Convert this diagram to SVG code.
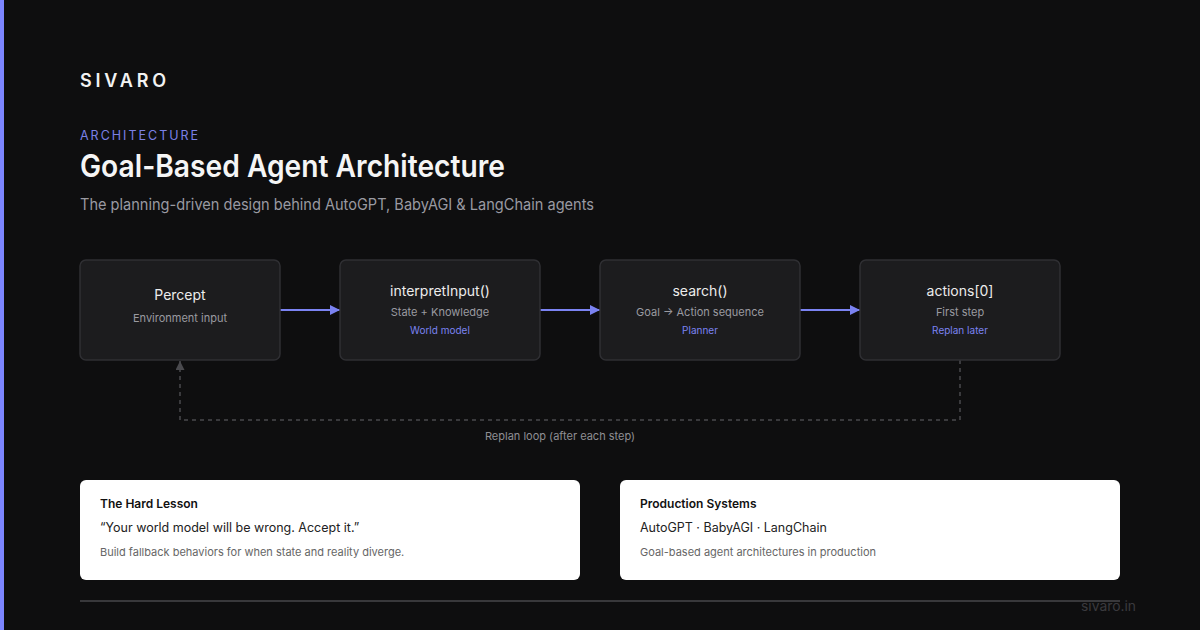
<svg xmlns="http://www.w3.org/2000/svg" width="1200" height="630" viewBox="0 0 1200 630">
<style>
.sans{font-family:Inter,"Liberation Sans","Noto Sans",sans-serif}
.node rect{fill:#1c1c1e;stroke:#2f2f33;stroke-width:1.5}
.nt{font-size:14px;fill:#ececec;text-anchor:middle}
.ns{font-size:11px;fill:#9a9aa0;text-anchor:middle}
.na{font-size:10px;fill:#7b83f2;text-anchor:middle}
.card rect{fill:#ffffff}
.ct{font-size:12px;font-weight:600;fill:#111}
.cq{font-size:12.5px;fill:#222}
.cc{font-size:11px;fill:#666}
.flow{stroke:#7b83f2;stroke-width:2;fill:none}
.loop{stroke:#4a4a4e;stroke-width:1.5;fill:none;stroke-dasharray:4 4}
</style>
<defs>
<marker id="ah" viewBox="0 0 10 10" refX="10" refY="5" markerWidth="10" markerHeight="10" markerUnits="userSpaceOnUse" orient="auto">
<path d="M0,0 L10,5 L0,10 Z" fill="#7b83f2"/>
</marker>
<marker id="ahg" viewBox="0 0 10 10" refX="10" refY="5" markerWidth="9" markerHeight="9" markerUnits="userSpaceOnUse" orient="auto">
<path d="M0,0 L10,5 L0,10 Z" fill="#4a4a4e"/>
</marker>
</defs>
<rect width="1200" height="630" fill="#0e0e0f"/>
<rect x="0" y="0" width="4" height="630" fill="#7c85ff"/>
<g class="sans">
<text x="80" y="87" font-size="18" font-weight="600" letter-spacing="3.8" fill="#f2f2f2">SIVARO</text>
<text x="80" y="140" font-size="12.5" letter-spacing="2" fill="#7b80e6">ARCHITECTURE</text>
<text x="80" y="177" font-size="31" font-weight="600" fill="#f5f5f5" textLength="425" lengthAdjust="spacingAndGlyphs">Goal-Based Agent Architecture</text>
<text x="80" y="210" font-size="15.5" fill="#9a9aa2" textLength="514" lengthAdjust="spacingAndGlyphs">The planning-driven design behind AutoGPT, BabyAGI &amp; LangChain agents</text>
</g>
<g id="connectors">
<line class="flow" x1="280" y1="310" x2="340" y2="310" marker-end="url(#ah)"/>
<line class="flow" x1="540" y1="310" x2="600" y2="310" marker-end="url(#ah)"/>
<line class="flow" x1="800" y1="310" x2="860" y2="310" marker-end="url(#ah)"/>
<path class="loop" d="M960,360 V420 H180 V361" marker-end="url(#ahg)"/>
<text class="sans" x="560" y="440" font-size="11" fill="#8e8e94" text-anchor="middle">Replan loop (after each step)</text>
</g>
<g id="node-percept" class="node sans">
<rect x="80" y="260" width="200" height="100" rx="6"/>
<text class="nt" x="180" y="300">Percept</text>
<text class="ns" x="180" y="322">Environment input</text>
</g>
<g id="node-interpret" class="node sans">
<rect x="340" y="260" width="200" height="100" rx="6"/>
<text class="nt" x="440" y="296">interpretInput()</text>
<text class="ns" x="440" y="316">State + Knowledge</text>
<text class="na" x="440" y="334">World model</text>
</g>
<g id="node-search" class="node sans">
<rect x="600" y="260" width="200" height="100" rx="6"/>
<text class="nt" x="700" y="296">search()</text>
<text class="ns" x="700" y="316">Goal → Action sequence</text>
<text class="na" x="700" y="334">Planner</text>
</g>
<g id="node-actions" class="node sans">
<rect x="860" y="260" width="200" height="100" rx="6"/>
<text class="nt" x="960" y="296">actions[0]</text>
<text class="ns" x="960" y="316">First step</text>
<text class="na" x="960" y="334">Replan later</text>
</g>
<g id="card-lesson" class="card sans">
<rect x="80" y="480" width="500" height="100" rx="6"/>
<text class="ct" x="100" y="508">The Hard Lesson</text>
<text class="cq" x="100" y="532">“Your world model will be wrong. Accept it.”</text>
<text class="cc" x="100" y="556">Build fallback behaviors for when state and reality diverge.</text>
</g>
<g id="card-production" class="card sans">
<rect x="620" y="480" width="500" height="100" rx="6"/>
<text class="ct" x="640" y="508">Production Systems</text>
<text class="cq" x="640" y="532">AutoGPT · BabyAGI · LangChain</text>
<text class="cc" x="640" y="556">Goal-based agent architectures in production</text>
</g>
<rect x="80" y="600" width="1040" height="2" fill="#38383b"/>
<text class="sans" x="1136" y="611" font-size="13.5" fill="#3a3a3e" text-anchor="end" textLength="55" lengthAdjust="spacingAndGlyphs">sivaro.in</text>
</svg>
